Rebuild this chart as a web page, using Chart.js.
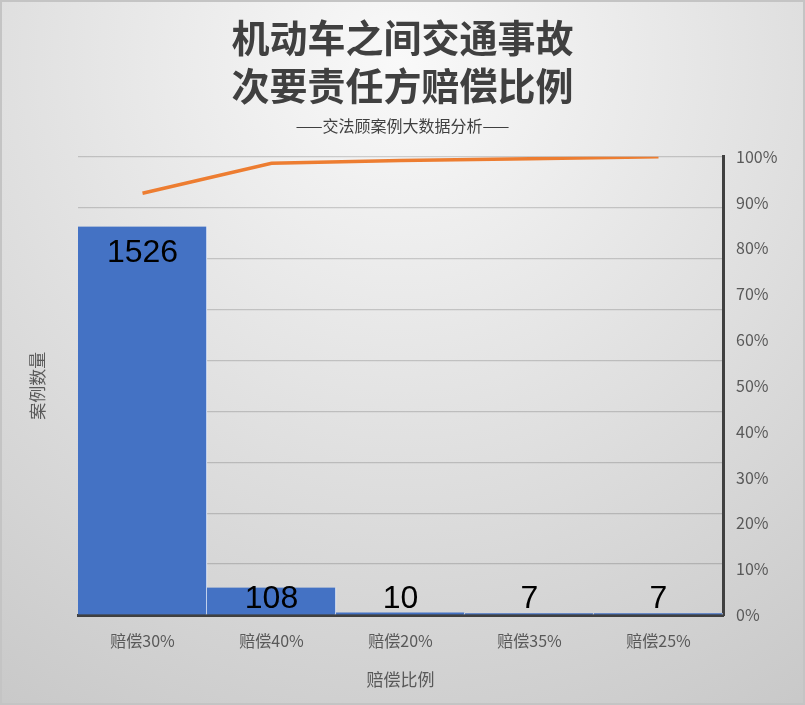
<!DOCTYPE html>
<html>
<head>
<meta charset="utf-8">
<script src="https://cdn.jsdelivr.net/npm/chart.js@4"></script>
<style>
  html, body { margin: 0; padding: 0; background: #e8e8e8; }
  #wrap { width: 805px; height: 705px; position: relative; }
</style>
</head>
<body>
<div id="wrap"><canvas id="c" width="805" height="705"></canvas></div>
<script>
// ---- data ----
const categories = ['赔偿30%', '赔偿40%', '赔偿20%', '赔偿35%', '赔偿25%'];
const caseCounts = [1526, 108, 10, 7, 7];
const cumulativeShare = [0.9204, 0.9855, 0.9915, 0.9958, 1.0];
const titleLines = ['机动车之间交通事故', '次要责任方赔偿比例'];
const subtitleText = '——交法顾案例大数据分析——';
const yTitle = '案例数量';
const xTitle = '赔偿比例';

const CJK = '"Noto Sans CJK SC", "Noto Sans", sans-serif';

const bgPlugin = {
  id: 'bg',
  beforeDraw(chart) {
    const { ctx, width, height } = chart;
    ctx.save();
    const g = ctx.createRadialGradient(400, 60, 0, 400, 60, 800);
    g.addColorStop(0, '#f9f9f9');
    g.addColorStop(1, '#c6c6c6');
    ctx.fillStyle = g;
    ctx.fillRect(0, 0, width, height);
    ctx.strokeStyle = '#c4c4c4';
    ctx.lineWidth = 2;
    ctx.strokeRect(1, 1, width - 2, height - 2);
    ctx.restore();
  }
};

const labelPlugin = {
  id: 'barLabels',
  afterDatasetsDraw(chart) {
    const { ctx } = chart;
    const meta = chart.getDatasetMeta(1);
    const bottom = chart.scales.y.getPixelForValue(0);
    ctx.save();
    ctx.font = '32px "Liberation Sans", sans-serif';
    ctx.fillStyle = '#000000';
    ctx.textAlign = 'center';
    ctx.textBaseline = 'middle';
    meta.data.forEach((bar, i) => {
      const y = Math.min(bar.y + 27, bottom - 16);
      ctx.fillText(String(caseCounts[i]), bar.x, y);
    });
    ctx.restore();
  }
};

new Chart(document.getElementById('c'), {
  data: {
    labels: categories,
    datasets: [
      {
        type: 'line',
        label: '累计百分比',
        data: cumulativeShare,
        yAxisID: 'y1',
        borderColor: '#ED7D31',
        borderWidth: 3.5,
        pointRadius: 0,
        tension: 0,
        order: 0
      },
      {
        type: 'bar',
        label: '案例数量',
        data: caseCounts,
        yAxisID: 'y',
        backgroundColor: '#4472C4',
        borderColor: '#ffffff',
        borderWidth: { left: 0, right: 1, top: 0, bottom: 0 },
        borderSkipped: false,
        barPercentage: 1,
        categoryPercentage: 1,
        order: 1
      }
    ]
  },
  options: {
    responsive: false,
    animation: false,
    devicePixelRatio: 1,
    layout: { padding: 0 },
    plugins: {
      legend: { display: false },
      tooltip: { enabled: false },
      title: {
        display: true,
        text: titleLines,
        color: '#404040',
        font: { family: CJK, size: 38, weight: 'bold', lineHeight: 1.27 },
        padding: { top: 13, bottom: 0 }
      },
      subtitle: {
        display: true,
        text: subtitleText,
        color: '#404040',
        font: { family: CJK, size: 16, lineHeight: 1.2 },
        padding: { top: 7, bottom: 21 }
      }
    },
    scales: {
      x: {
        grid: { display: false, drawTicks: false },
        border: { display: true, color: '#404040', width: 3 },
        ticks: { color: '#595959', font: { family: CJK, size: 16 }, padding: 16, maxRotation: 0 },
        title: {
          display: true, text: xTitle, color: '#595959',
          font: { family: CJK, size: 17, lineHeight: 1.2 },
          padding: { top: 0, bottom: 15 }
        },
        afterFit(s) { s.height = 90; }
      },
      y: {
        position: 'left',
        min: 0, max: 1800,
        ticks: { display: false, stepSize: 200 },
        grid: { color: 'rgba(0,0,0,0.16)', lineWidth: 1.2, drawTicks: false },
        border: { display: false },
        title: {
          display: true, text: yTitle, color: '#595959',
          font: { family: CJK, size: 17, lineHeight: 1.2 },
          padding: { top: 27, bottom: 0 }
        },
        afterFit(s) { s.width = 78; }
      },
      y1: {
        position: 'right',
        min: 0, max: 1,
        ticks: {
          stepSize: 0.1,
          color: '#595959',
          font: { family: CJK, size: 16 },
          padding: 13,
          callback: v => Math.round(v * 100) + '%'
        },
        grid: { display: false, drawTicks: false },
        border: { display: true, color: '#404040', width: 3 },
        afterFit(s) { s.width = 82; }
      }
    }
  },
  plugins: [bgPlugin, labelPlugin]
});
</script>
</body>
</html>
